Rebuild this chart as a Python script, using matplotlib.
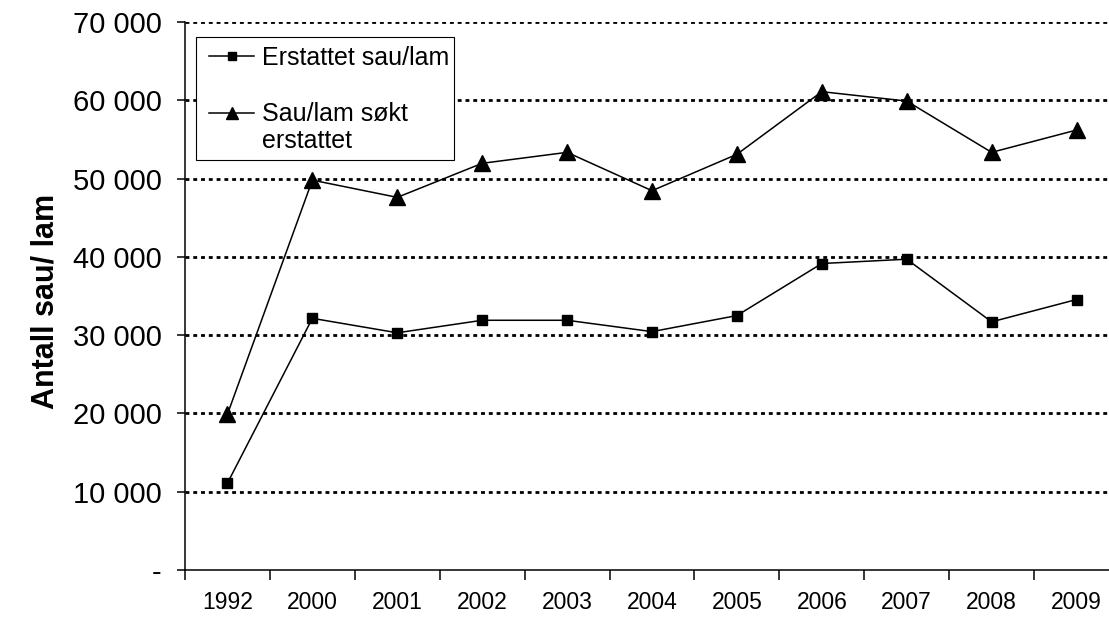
import matplotlib.pyplot as plt
from matplotlib.patches import Rectangle
from matplotlib.ticker import FixedLocator, FuncFormatter

years = ['1992', '2000', '2001', '2002', '2003', '2004', '2005', '2006', '2007', '2008', '2009']
erstattet = [11100, 32150, 30300, 31900, 31900, 30450, 32500, 39150, 39700, 31700, 34550]
sokt = [19900, 49800, 47600, 51950, 53350, 48450, 53100, 61100, 59900, 53350, 56200]
yticks = [0, 10000, 20000, 30000, 40000, 50000, 60000, 70000]

plt.rcParams['font.family'] = ['Liberation Sans', 'DejaVu Sans']

W, H = 1109, 622
fig = plt.figure(figsize=(W / 100, H / 100), dpi=100)
left, right, top, bottom = 185, 1119, 22, 570
ax = fig.add_axes([left / W, 1 - bottom / H, (right - left) / W, (bottom - top) / H])

x = list(range(len(years)))
ax.plot(x, erstattet, color='black', lw=1.1, marker='s', ms=7.2, label='Erstattet sau/lam')
ax.plot(x, sokt, color='black', lw=1.1, marker='^', ms=11, label='Sau/lam søkt')

ax.set_xlim(-0.5, len(years) - 0.5)
ax.set_ylim(0, 70000)

for v in yticks[1:]:
    ax.axhline(v, color='black', lw=2, linestyle=(0, (1.4, 1.4)), zorder=0)

ax.set_yticks(yticks)
ax.yaxis.set_major_formatter(FuncFormatter(lambda v, p: '-' if v == 0 else f'{int(v):,}'.replace(',', ' ')))
ax.tick_params(axis='y', direction='out', length=6, width=1.1, labelsize=21, pad=11)

ax.set_xticks(x)
ax.set_xticklabels(years)
ax.xaxis.set_minor_locator(FixedLocator([i - 0.5 for i in range(len(years) + 1)]))
ax.tick_params(axis='x', which='major', length=0, labelsize=16.5, pad=15)
ax.tick_params(axis='x', which='minor', direction='out', length=7, width=1.1)

for s in ['top', 'right']:
    ax.spines[s].set_visible(False)
for s in ['left', 'bottom']:
    ax.spines[s].set_linewidth(1.1)

ax.set_ylabel('Antall sau/ lam', fontsize=22, fontweight='bold', labelpad=9)
ax.yaxis.label.set_y(0.49)

# legend box drawn by hand so the second label can wrap below its marker
box = Rectangle((196 / W, 1 - 160 / H), (454 - 196) / W, (160 - 37) / H,
                transform=fig.transFigure, facecolor='white', edgecolor='black',
                lw=0.8, zorder=4, clip_on=False)
ax.add_patch(box)
leg = ax.legend(loc='upper left', bbox_to_anchor=(209 / W, 1 - 46 / H), bbox_transform=fig.transFigure,
                borderaxespad=0, borderpad=0, frameon=False, fontsize=18,
                labelspacing=1.29, handlelength=1.8, handletextpad=0.3, markerscale=0.85)
leg.set_zorder(6)
ax.text(262 / W, 1 - 141 / H, 'erstattet', fontsize=18, va='center', ha='left',
        transform=fig.transFigure, zorder=6)

fig.savefig('out.png', dpi=100)
